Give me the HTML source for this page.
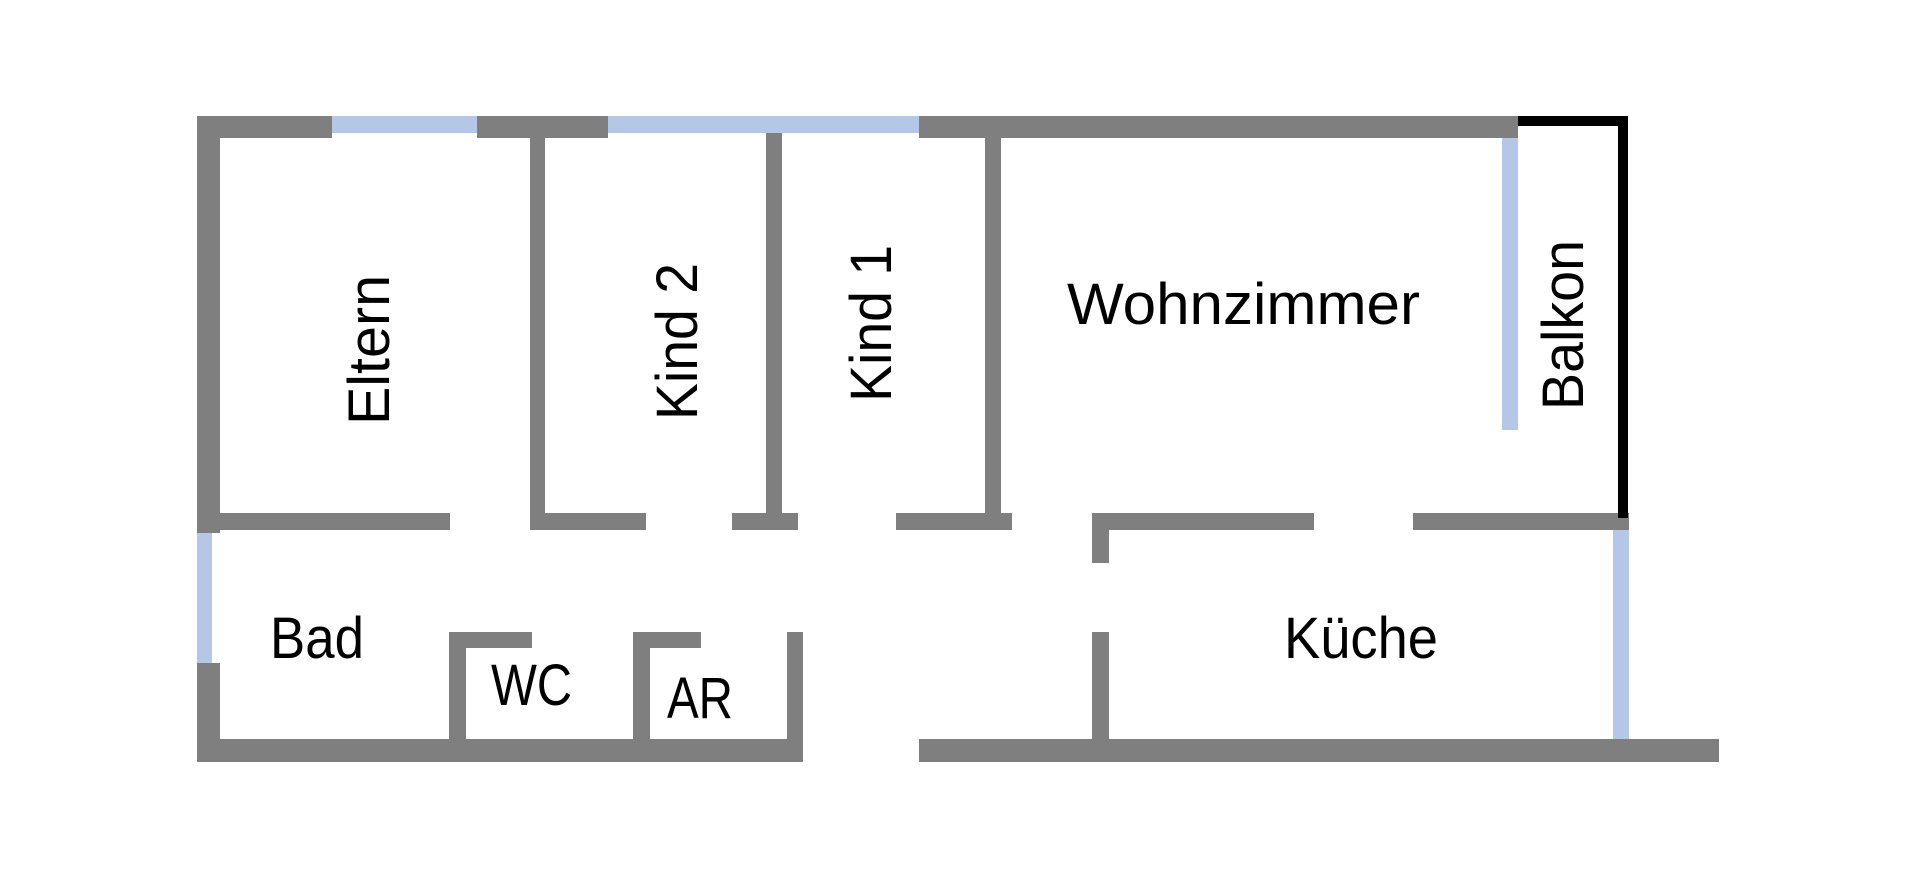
<!DOCTYPE html>
<html>
<head>
<meta charset="utf-8">
<style>
  html, body { margin: 0; padding: 0; background: #ffffff; }
  svg { display: block; }
  text { font-family: "Liberation Sans", "DejaVu Sans", sans-serif; fill: #000; font-size: 58px; }
</style>
</head>
<body>
<svg width="1920" height="880" viewBox="0 0 1920 880" xmlns="http://www.w3.org/2000/svg">
  <rect x="0" y="0" width="1920" height="880" fill="#ffffff"/>
  <g fill="#7f7f7f">
    <!-- top wall -->
    <rect x="197" y="116" width="135" height="22"/>
    <rect x="477" y="116" width="131" height="22"/>
    <rect x="919" y="116" width="599" height="22"/>
    <!-- left wall -->
    <rect x="197" y="116" width="23" height="417"/>
    <rect x="197" y="663" width="23" height="99"/>
    <!-- bottom walls -->
    <rect x="197" y="739" width="606" height="23"/>
    <rect x="919" y="739" width="800" height="23"/>
    <!-- Eltern -->
    <rect x="197" y="513" width="253" height="17"/>
    <rect x="530" y="138" width="15" height="392"/>
    <!-- Kind 2 -->
    <rect x="530" y="513" width="116" height="17"/>
    <rect x="766" y="132" width="16" height="398"/>
    <rect x="732" y="513" width="66" height="17"/>
    <!-- Kind 1 / Wohnzimmer -->
    <rect x="985" y="138" width="16" height="392"/>
    <rect x="896" y="513" width="116" height="17"/>
    <!-- Küche -->
    <rect x="1092" y="513" width="222" height="17"/>
    <rect x="1092" y="513" width="17" height="50"/>
    <rect x="1092" y="632" width="17" height="108"/>
    <rect x="1413" y="513" width="216" height="17"/>
    <!-- WC -->
    <rect x="449" y="632" width="17" height="108"/>
    <rect x="449" y="632" width="83" height="16"/>
    <!-- AR -->
    <rect x="633" y="632" width="17" height="108"/>
    <rect x="633" y="632" width="68" height="16"/>
    <rect x="787" y="632" width="16" height="130"/>
  </g>
  <g fill="#b4c7e7">
    <rect x="332" y="116" width="145" height="17"/>
    <rect x="608" y="116" width="311" height="17"/>
    <rect x="1502" y="138" width="16" height="292"/>
    <rect x="197" y="533" width="15" height="130"/>
    <rect x="1613" y="530" width="16" height="209"/>
  </g>
  <g fill="#000000">
    <rect x="1518" y="116" width="110" height="10"/>
    <rect x="1618" y="116" width="10" height="402"/>
  </g>

  <!-- labels -->
  <text x="0" y="0" text-anchor="middle" textLength="150" lengthAdjust="spacingAndGlyphs" transform="translate(389,350) rotate(-90)">Eltern</text>
  <text x="0" y="0" text-anchor="middle" textLength="157" lengthAdjust="spacingAndGlyphs" transform="translate(697,341.5) rotate(-90)">Kind 2</text>
  <text x="0" y="0" text-anchor="middle" textLength="157" lengthAdjust="spacingAndGlyphs" transform="translate(891,323.4) rotate(-90)">Kind 1</text>
  <text x="0" y="0" text-anchor="middle" textLength="170" lengthAdjust="spacingAndGlyphs" transform="translate(1583,325) rotate(-90)">Balkon</text>
  <text x="1067" y="324" textLength="353" lengthAdjust="spacingAndGlyphs">Wohnzimmer</text>
  <text x="270" y="658" textLength="94" lengthAdjust="spacingAndGlyphs">Bad</text>
  <text x="491" y="705" textLength="81" lengthAdjust="spacingAndGlyphs">WC</text>
  <text x="667" y="718" textLength="66" lengthAdjust="spacingAndGlyphs">AR</text>
  <text x="1284" y="658" textLength="154" lengthAdjust="spacingAndGlyphs">Küche</text>
</svg>
</body>
</html>
